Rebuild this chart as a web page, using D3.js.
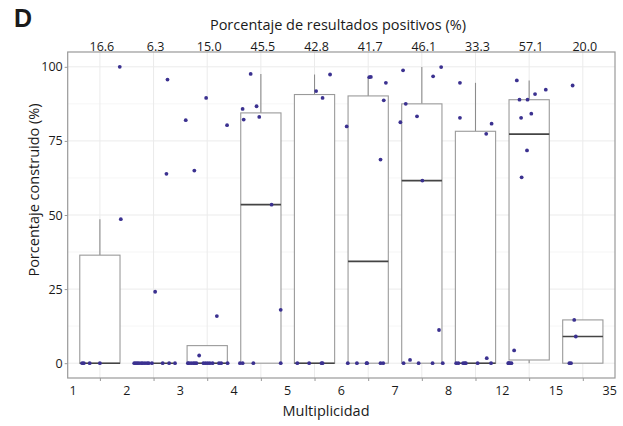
<!DOCTYPE html>
<html lang="es">
<head>
<meta charset="UTF-8">
<script src="https://cdn.jsdelivr.net/npm/d3@7"></script>
<style>
  body { margin: 0; background: #fff; }
  text { font-family: "Open Sans", sans-serif; fill: #1a1a1a; }
</style>
</head>
<body>
<div id="container"></div>
<script>
// categories (bins of multiplicity) and the labels on their edges
const groups = ["g1", "g2", "g3", "g4", "g5", "g6", "g7", "g8", "g9", "g10"];
const edgeLabels = ["1", "2", "3", "4", "5", "6", "7", "8", "12", "15", "35"];
const topLabels = ["16.6", "6.3", "15.0", "45.5", "42.8", "41.7", "46.1", "33.3", "57.1", "20.0"];
const yTicks = [0, 25, 50, 75, 100];

// % built per construct, one list per bin
const values = [
  [0, 0, 0, 0, 48.6, 100],
  [0, 0, 0, 0, 0, 0, 0, 0, 0, 0, 0, 0, 0, 24.1, 63.9, 95.7],
  [0, 0, 0, 0, 0, 0, 0, 0, 0, 0, 0, 0, 0, 0, 2.6, 15.9, 65, 80.3, 82, 89.5],
  [0, 0, 0, 0, 18, 53.5, 82.2, 83.1, 85.8, 86.7, 97.6],
  [0, 0, 0, 0, 89.5, 91.8, 97.4],
  [0, 0, 0, 0, 0, 0, 68.7, 79.9, 88.7, 94.6, 96.5, 96.6],
  [0, 0, 0, 0, 1.1, 11.2, 61.6, 81.3, 83.3, 87.5, 96.8, 98.8, 99.9],
  [0, 0, 0, 0, 0, 0, 0, 1.7, 77.4, 80.8, 82.8, 94.6],
  [0, 0, 0, 0, 4.3, 62.7, 71.8, 82.8, 84.2, 88.9, 88.9, 90.8, 92.3, 95.4],
  [0, 0, 9.0, 14.6, 93.7]
];

// horizontal jitter of each point, as a fraction of the category step
const jitter = [
  [-0.33, -0.30, -0.19, 0.00, 0.39, 0.37],
  [-0.36, -0.33, -0.30, -0.27, -0.23, -0.20, -0.16, -0.12, -0.09, -0.03, 0.17, 0.29, 0.40, 0.03, 0.24, 0.26],
  [-0.36, -0.34, -0.30, -0.26, -0.23, -0.20, -0.07, -0.03, 0.01, 0.05, 0.10, 0.22, 0.26, 0.38, -0.15, 0.18, -0.24, 0.37, -0.40, -0.02],
  [-0.39, -0.34, -0.14, 0.37, 0.37, 0.20, -0.32, -0.03, -0.34, -0.08, -0.19],
  [-0.32, -0.10, 0.13, 0.15, 0.15, 0.03, 0.29],
  [-0.38, -0.21, -0.03, -0.02, 0.23, 0.28, 0.23, -0.40, 0.29, 0.33, 0.02, 0.05],
  [-0.34, -0.06, 0.20, 0.39, -0.22, 0.32, 0.01, -0.40, -0.09, -0.30, 0.21, -0.35, 0.36],
  [-0.36, -0.32, -0.23, -0.18, -0.20, 0.04, 0.29, 0.21, 0.20, 0.30, -0.29, -0.29],
  [-0.39, -0.36, -0.33, -0.38, -0.28, -0.14, -0.04, -0.15, 0.04, -0.18, -0.03, 0.11, 0.31, -0.23],
  [-0.25, -0.22, -0.13, -0.16, -0.19]
];

const width = 623, height = 426;
const panel = { left: 67.7, right: 615, top: 52, bottom: 378 };

const svg = d3.create("svg")
    .attr("width", width)
    .attr("height", height);

const x = d3.scalePoint()
    .domain(groups)
    .range([panel.left, panel.right])
    .padding(0.6);
const step = x.step();

const y = d3.scaleLinear()
    .domain([-5, 105])
    .range([panel.bottom, panel.top]);

// grid
const grid = svg.append("g");
const minor = d3.range(-12.5, 105, 25).filter(v => v > -5);
grid.selectAll(".minor").data(minor).join("line")
    .attr("x1", panel.left).attr("x2", panel.right)
    .attr("y1", d => y(d)).attr("y2", d => y(d))
    .attr("stroke", "#f4f4f4").attr("stroke-width", 0.8);
grid.selectAll(".hmaj").data(yTicks).join("line")
    .attr("x1", panel.left).attr("x2", panel.right)
    .attr("y1", d => y(d)).attr("y2", d => y(d))
    .attr("stroke", "#ebebeb").attr("stroke-width", 1);
grid.selectAll(".vmaj").data(groups).join("line")
    .attr("x1", d => x(d)).attr("x2", d => x(d))
    .attr("y1", panel.top).attr("y2", panel.bottom)
    .attr("stroke", "#ebebeb").attr("stroke-width", 1);

// boxplots, stats computed from the values
const stats = values.map(v => {
  const s = v.slice().sort(d3.ascending);
  const q1 = d3.quantile(s, 0.25), med = d3.quantile(s, 0.5), q3 = d3.quantile(s, 0.75);
  const iqr = q3 - q1;
  const hi = d3.max(s.filter(d => d <= q3 + 1.5 * iqr));
  const lo = d3.min(s.filter(d => d >= q1 - 1.5 * iqr));
  return { q1, med, q3, hi, lo };
});

const boxW = step * 0.75;
const boxes = svg.append("g");
stats.forEach((s, i) => {
  const cx = x(groups[i]);
  const g = boxes.append("g");
  g.append("line")
      .attr("x1", cx).attr("x2", cx)
      .attr("y1", y(s.q3)).attr("y2", y(s.hi))
      .attr("stroke", "#8c8c8c").attr("stroke-width", 1.1);
  g.append("line")
      .attr("x1", cx).attr("x2", cx)
      .attr("y1", y(s.q1)).attr("y2", y(s.lo))
      .attr("stroke", "#8c8c8c").attr("stroke-width", 1.1);
  g.append("rect")
      .attr("x", cx - boxW / 2).attr("width", boxW)
      .attr("y", y(s.q3)).attr("height", Math.max(0, y(s.q1) - y(s.q3)))
      .attr("fill", "#fff")
      .attr("stroke", "#9a9a9a").attr("stroke-width", 1.1);
  g.append("line")
      .attr("x1", cx - boxW / 2).attr("x2", cx + boxW / 2)
      .attr("y1", y(s.med)).attr("y2", y(s.med))
      .attr("stroke", "#444").attr("stroke-width", 1.6);
});

// jittered points
const pts = [];
values.forEach((v, i) => v.forEach((d, j) => pts.push({ g: groups[i], v: d, j: jitter[i][j] })));
svg.append("g").selectAll("circle").data(pts).join("circle")
    .attr("cx", d => x(d.g) + d.j * step)
    .attr("cy", d => y(d.v))
    .attr("r", 1.9)
    .attr("fill", "#3b3190");

// panel border
svg.append("rect")
    .attr("x", panel.left).attr("y", panel.top)
    .attr("width", panel.right - panel.left)
    .attr("height", panel.bottom - panel.top)
    .attr("fill", "none")
    .attr("stroke", "#999").attr("stroke-width", 1.2);

// y axis
const yAxis = svg.append("g")
    .attr("transform", `translate(${panel.left},0)`)
    .call(d3.axisLeft(y).tickValues(yTicks).tickSize(3).tickPadding(2));
yAxis.select(".domain").remove();
yAxis.selectAll(".tick line").attr("stroke", "#999");
yAxis.selectAll(".tick text").attr("font-size", 12.5).attr("fill", "#333")
    .style("font-family", "Open Sans");

// bottom axis: ticks at the bins, labels on the edges
const xAxis = svg.append("g")
    .attr("transform", `translate(0,${panel.bottom})`)
    .call(d3.axisBottom(x).tickSize(3).tickFormat(""));
xAxis.select(".domain").remove();
xAxis.selectAll(".tick line").attr("stroke", "#999");

const edgePos = edgeLabels.map((d, i) => i < groups.length ? x(groups[i]) - step / 2 : x(groups[groups.length - 1]) + step / 2);
svg.append("g").selectAll("text").data(edgeLabels).join("text")
    .attr("x", (d, i) => edgePos[i])
    .attr("y", panel.bottom + 16.5)
    .attr("text-anchor", "middle")
    .attr("font-size", 12.5)
    .attr("fill", "#333")
    .text(d => d);

// top axis: share of positive results
svg.append("g").selectAll("text").data(topLabels).join("text")
    .attr("x", (d, i) => x(groups[i]) + 2)
    .attr("y", panel.top - 1.5)
    .attr("text-anchor", "middle")
    .attr("font-size", 12.5)
    .attr("fill", "#1a1a1a")
    .text(d => d);

// titles
svg.append("text")
    .attr("x", 338).attr("y", 30)
    .attr("text-anchor", "middle")
    .attr("font-size", 14.5)
    .text("Porcentaje de resultados positivos (%)");

svg.append("text")
    .attr("x", 326).attr("y", 416)
    .attr("text-anchor", "middle")
    .attr("font-size", 14.5)
    .text("Multiplicidad");

svg.append("text")
    .attr("transform", "translate(39,190) rotate(-90)")
    .attr("text-anchor", "middle")
    .attr("font-size", 14.5)
    .text("Porcentaje construido (%)");

svg.append("text")
    .attr("x", 14).attr("y", 27)
    .style("font-family", "Liberation Sans, Arial, sans-serif")
    .attr("font-weight", "bold")
    .attr("font-size", 25)
    .attr("fill", "#000")
    .text("D");

document.getElementById("container").appendChild(svg.node());
</script>
</body>
</html>
